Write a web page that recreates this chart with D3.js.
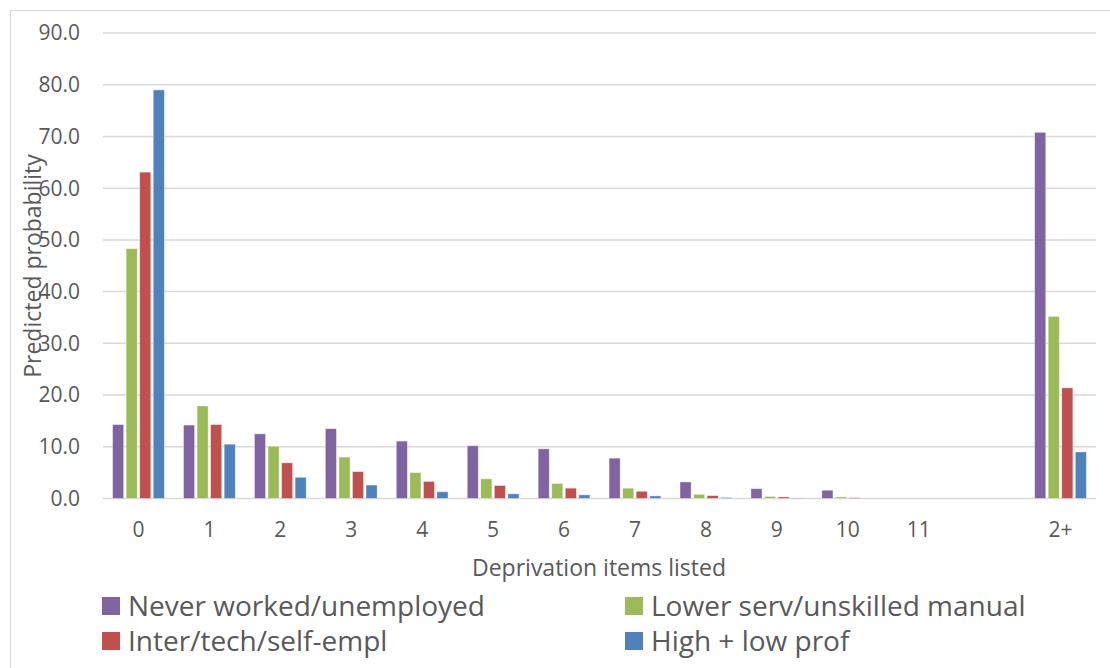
<!DOCTYPE html>
<html>
<head>
  <meta charset="utf-8">
  <script src="https://d3js.org/d3.v7.min.js"></script>
  <style>
    body { margin: 0; background: #fff; }
    text { font-family: "Open Sans", sans-serif; fill: #595959; }
  </style>
</head>
<body>
  <svg width="1110" height="668"></svg>
  <script>
  // categories (one empty slot between 11 and 2+)
  var categories = ["0", "1", "2", "3", "4", "5", "6", "7", "8", "9", "10", "11", "", "2+"];
  var seriesNames = ["Never worked/unemployed", "Lower serv/unskilled manual", "Inter/tech/self-empl", "High + low prof"];
  var seriesColors = ["#8064a2", "#9bbb59", "#c0504d", "#4f81bd"];

  var neverWorked = [14.3, 14.2, 12.5, 13.5, 11.1, 10.2, 9.6, 7.8, 3.2, 1.9, 1.6, 0.0, null, 70.8];
  var lowerServ   = [48.3, 17.9, 10.1, 8.0, 5.0, 3.8, 2.9, 2.0, 0.8, 0.4, 0.3, 0.0, null, 35.2];
  var interTech   = [63.1, 14.3, 6.9, 5.2, 3.3, 2.5, 2.0, 1.4, 0.55, 0.3, 0.15, 0.0, null, 21.4];
  var highLowProf = [79.0, 10.5, 4.1, 2.6, 1.3, 0.9, 0.7, 0.5, 0.2, 0.1, 0.05, 0.0, null, 9.0];
  var seriesValues = [neverWorked, lowerServ, interTech, highLowProf];

  var yTicks = [0, 10, 20, 30, 40, 50, 60, 70, 80, 90];

  var svg = d3.select("svg");

  // chart frame
  svg.append("rect")
      .attr("x", 10.5).attr("y", 10.5)
      .attr("width", 1110).attr("height", 680)
      .attr("fill", "none")
      .attr("stroke", "#d9d9d9");

  var keys = categories.map(function(c, i) { return "k" + i; });

  var x0 = d3.scaleBand().domain(keys).range([103, 1096])
      .paddingInner(0.27).paddingOuter(0.135);
  var x1 = d3.scaleBand().domain(d3.range(4)).range([0, x0.bandwidth()])
      .paddingInner(0.18);
  var y = d3.scaleLinear().domain([0, 90]).range([498.5, 33]);

  // gridlines
  svg.append("g")
    .selectAll("line")
    .data(yTicks)
    .enter().append("line")
      .attr("x1", 103).attr("x2", 1096)
      .attr("y1", function(d) { return y(d); })
      .attr("y2", function(d) { return y(d); })
      .attr("stroke", "#d9d9d9")
      .attr("stroke-width", 1.5);

  // y tick labels
  svg.append("g")
    .selectAll("text")
    .data(yTicks)
    .enter().append("text")
      .attr("x", 80)
      .attr("y", function(d) { return y(d); })
      .attr("dy", "0.35em")
      .attr("text-anchor", "end")
      .style("font-size", "21px")
      .text(function(d) { return d.toFixed(1); });

  // bars
  var rows = [];
  seriesValues.forEach(function(vals, s) {
    vals.forEach(function(v, i) {
      if (v !== null) rows.push({ s: s, i: i, v: v });
    });
  });

  svg.append("g")
    .selectAll("rect")
    .data(rows)
    .enter().append("rect")
      .attr("x", function(d) { return x0(keys[d.i]) + x1(d.s); })
      .attr("y", function(d) { return y(d.v); })
      .attr("width", x1.bandwidth())
      .attr("height", function(d) { return y(0) - y(d.v); })
      .attr("fill", function(d) { return seriesColors[d.s]; })
      .attr("stroke", "#fff")
      .attr("stroke-opacity", 0.5)
      .attr("stroke-width", 0.8);

  // x labels
  svg.append("g")
    .selectAll("text")
    .data(categories)
    .enter().append("text")
      .attr("x", function(d, i) { return x0(keys[i]) + x0.bandwidth() / 2; })
      .attr("y", 530)
      .attr("dy", "0.35em")
      .attr("text-anchor", "middle")
      .style("font-size", "21px")
      .text(function(d) { return d; });

  // axis titles
  svg.append("text")
      .attr("x", 599).attr("y", 568)
      .attr("dy", "0.35em")
      .attr("text-anchor", "middle")
      .style("font-size", "23px")
      .text("Deprivation items listed");

  svg.append("text")
      .attr("transform", "translate(33,266)rotate(-90)")
      .attr("dy", "0.35em")
      .attr("text-anchor", "middle")
      .style("font-size", "23px")
      .text("Predicted probability");

  // legend
  var legendX = [102, 625], legendY = [606, 641];
  var legend = svg.append("g")
    .selectAll("g")
    .data(seriesNames)
    .enter().append("g")
      .attr("transform", function(d, i) {
        return "translate(" + legendX[i % 2] + "," + legendY[Math.floor(i / 2)] + ")";
      });

  legend.append("rect")
      .attr("x", 0).attr("y", -9)
      .attr("width", 18).attr("height", 18)
      .attr("fill", function(d, i) { return seriesColors[i]; });

  legend.append("text")
      .attr("x", 26)
      .attr("dy", "0.35em")
      .style("font-size", "28px")
      .text(function(d) { return d; });
  </script>
</body>
</html>
